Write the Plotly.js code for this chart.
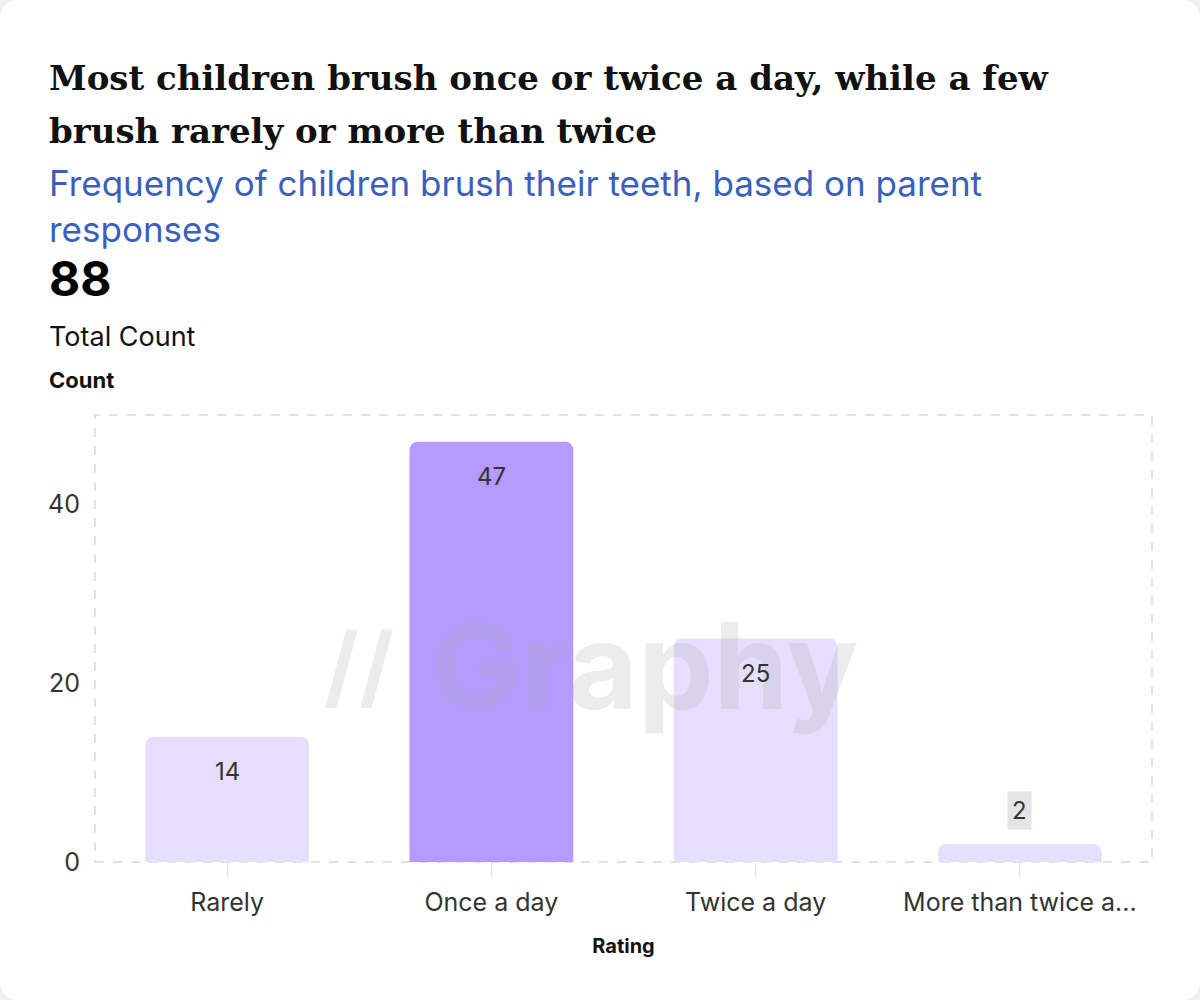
<!DOCTYPE html>
<html>
<head>
<meta charset="utf-8">
<script src="https://cdn.plot.ly/plotly-3.0.1.min.js"></script>
<style>
  body { margin: 0; background: #f0f0f0; }
  #card { position: absolute; left: 0; top: 0; width: 1200px; height: 1000px; background: #fff; border-radius: 18px; }
  #chart { position: absolute; left: 0; top: 0; width: 1200px; height: 1000px; }
</style>
</head>
<body>
<div id="card"></div>
<div id="chart"></div>
<script>
// chart data
const categories = ["Rarely", "Once a day", "Twice a day", "More than twice a..."];
const counts = [14, 47, 25, 2];
const highlight = [false, true, false, false];
const total_count = 88;
const title_lines = ["Most children brush once or twice a day, while a few", "brush rarely or more than twice"];

const light = "#e6defd";
const strong = "#b59bfd";

const bar_trace = {
    type: "bar",
    x: categories,
    y: counts,
    marker: { color: highlight.map(h => h ? strong : light), cornerradius: 8 },
    hoverinfo: "none"
};

// value labels: inside the top of tall bars, boxed above short ones
const value_notes = categories.map((c, i) => {
    const v = counts[i];
    const note = {
        x: c, y: v, showarrow: false, text: String(v),
        font: { family: "Inter", size: 24, color: "#333" }
    };
    if (v >= 5) { note.yanchor = "top"; note.yshift = -18; }
    else { note.yanchor = "bottom"; note.yshift = 14; note.bgcolor = "#e4e4e4"; note.borderpad = 4; }
    return note;
});

// title split in two lines for wider line spacing
const title_notes = title_lines.map((t, i) => ({
    xref: "paper", yref: "paper", x: -0.045, y: 1.0, yshift: 315 - i * 53,
    xanchor: "left", yanchor: "bottom", showarrow: false,
    text: "<b>" + t + "</b>", font: { family: "DejaVu Serif", size: 34, color: "#111" }
}));

const layout = {
    width: 1200, height: 1000,
    paper_bgcolor: "rgba(0,0,0,0)", plot_bgcolor: "rgba(0,0,0,0)",
    margin: { l: 95, r: 48, t: 415, b: 138, pad: 0 },
    bargap: 0.38,
    showlegend: false,
    font: { family: "Inter", color: "#333" },
    xaxis: {
        showgrid: false, zeroline: false, showline: false,
        ticks: "outside", ticklen: 14, tickcolor: "#ddd", ticklabelstandoff: 4,
        tickfont: { size: 25, color: "#333" },
        title: { text: "<b>Rating</b>", font: { size: 20, color: "#111" }, standoff: 22 }
    },
    yaxis: {
        range: [0, 50], tickvals: [0, 20, 40],
        showgrid: false, zeroline: false,
        tickfont: { size: 25, color: "#333" }, ticklabelstandoff: 14
    },
    shapes: [{
        type: "rect", xref: "paper", yref: "paper", x0: 0, x1: 1, y0: 0, y1: 1,
        line: { color: "#e2e2e2", width: 2, dash: "dash" }, layer: "below"
    }],
    annotations: [
        { xref: "paper", yref: "paper", x: 0.52, y: 0.44, showarrow: false,
          text: "<b>Graphy</b>", font: { family: "Inter", size: 120, color: "rgba(170,170,170,0.22)" } },
        { xref: "paper", yref: "paper", x: 0.215, y: 0.44, showarrow: false,
          text: "<b>//</b>", font: { family: "Inter", size: 90, color: "rgba(170,170,170,0.22)" } },
        { xref: "paper", yref: "paper", x: -0.045, y: 1.0, yshift: 163, xanchor: "left", yanchor: "bottom", align: "left", showarrow: false,
          text: "Frequency of children brush their teeth, based on parent<br>responses",
          font: { family: "Inter", size: 35, color: "#3a5fbf" } },
        { xref: "paper", yref: "paper", x: -0.045, y: 1.0, yshift: 105, xanchor: "left", yanchor: "bottom", showarrow: false,
          text: "<b>" + total_count + "</b>", font: { family: "Inter", size: 48, color: "#000" } },
        { xref: "paper", yref: "paper", x: -0.045, y: 1.0, yshift: 60, xanchor: "left", yanchor: "bottom", showarrow: false,
          text: "Total Count", font: { family: "Inter", size: 27, color: "#111" } },
        { xref: "paper", yref: "paper", x: -0.045, y: 1.0, yshift: 20, xanchor: "left", yanchor: "bottom", showarrow: false,
          text: "<b>Count</b>", font: { family: "Inter", size: 22, color: "#111" } }
    ].concat(title_notes, value_notes)
};

Plotly.newPlot("chart", [bar_trace], layout, { displayModeBar: false, staticPlot: true });
</script>
</body>
</html>
